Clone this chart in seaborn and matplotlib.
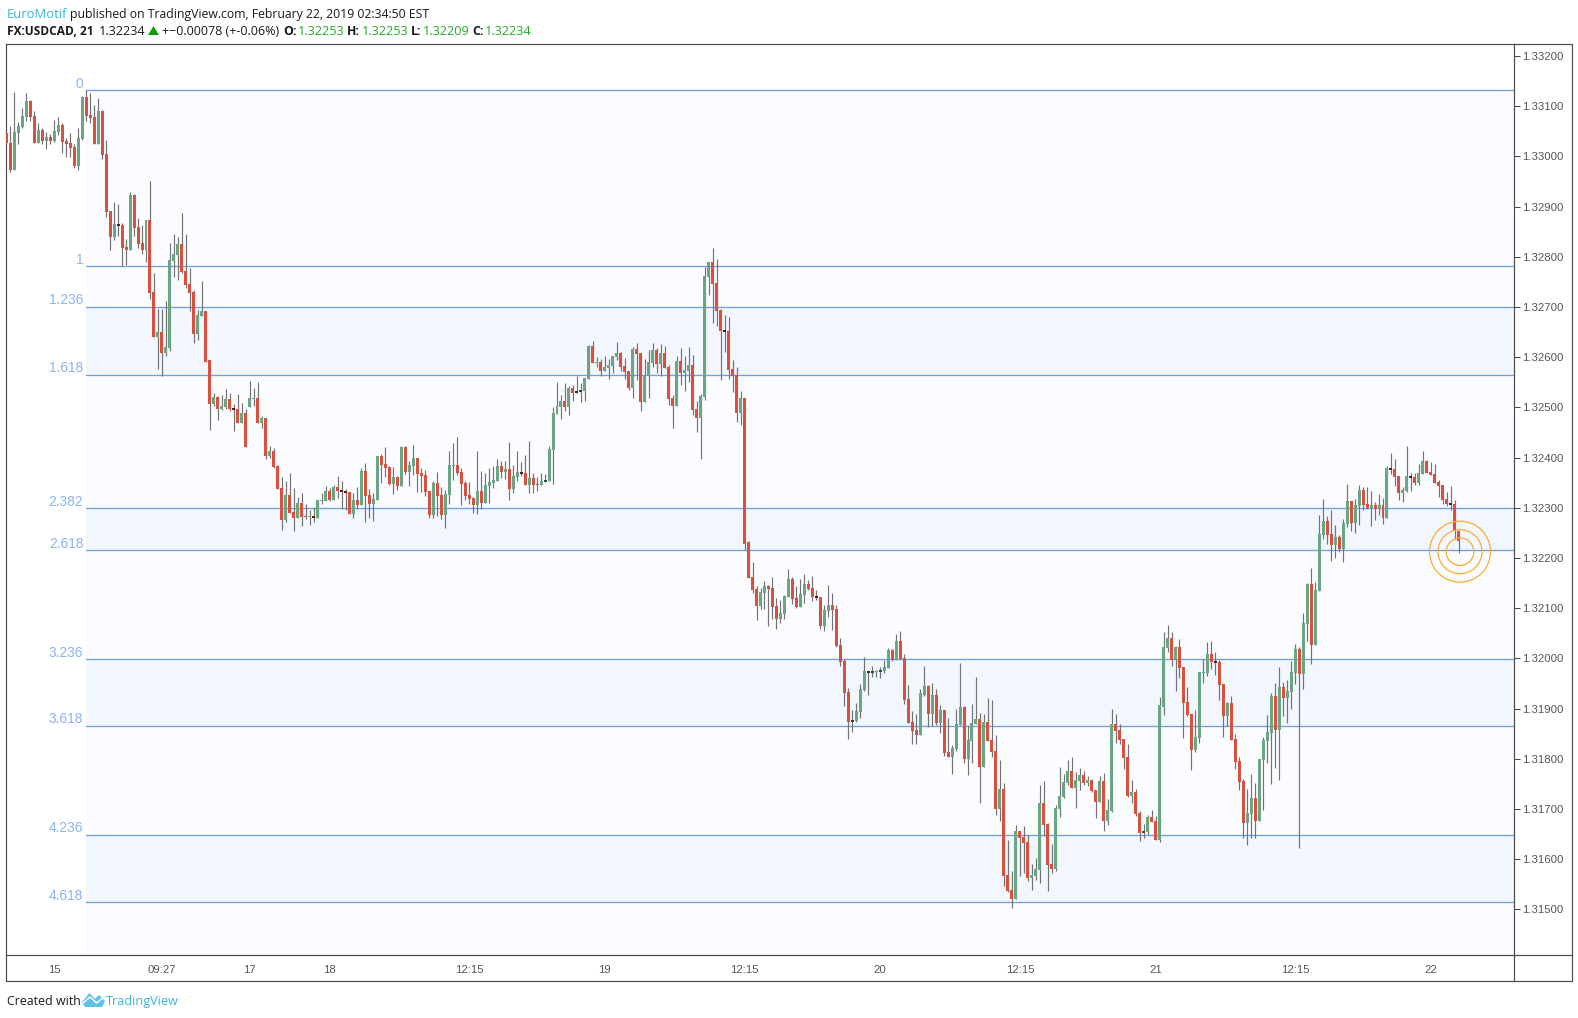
import numpy as np
import pandas as pd
import matplotlib
matplotlib.use("Agg")
import matplotlib.pyplot as plt
from matplotlib.patches import Polygon
from matplotlib.lines import Line2D
import seaborn as sns

# Candle values in points (1 point = 0.00001 USD/CAD)
opens_pts = [
133046,133027,132973,133047,133059,133079,133111,133081,133027,133053,
133031,133039,133031,133049,133063,133031,133027,133019,132981,133035,
133119,133083,133079,133025,133091,133005,132891,132839,132865,132863,
132819,132813,132923,132859,132827,132813,132873,132729,132641,132651,
132609,132619,132791,132803,132825,132771,132745,132729,132647,132683,
132693,132595,132507,132521,132497,132501,132517,132499,132497,132469,
132489,132501,132517,132519,132469,132479,132403,132413,132383,132339,
132275,132325,132291,132279,132309,132283,132281,132283,132279,132313,
132313,132333,132315,132341,132335,132333,132331,132287,132315,132305,
132373,132325,132307,132315,132403,132387,132381,132347,132361,132343,
132421,132371,132383,132399,132369,132365,132333,132285,132349,132325,
132285,132325,132383,132385,132371,132349,132325,132319,132305,132333,
132309,132343,132349,132353,132383,132371,132377,132337,132361,132371,
132369,132345,132359,132347,132345,132351,132353,132415,132487,132501,
132513,132501,132539,132533,132531,132533,132557,132623,132589,132591,
132573,132579,132583,132601,132609,132583,132573,132539,132617,132609,
132511,132563,132589,132615,132587,132609,132581,132519,132503,132593,
132569,132573,132585,132497,132479,132521,132759,132789,132747,132695,
132655,132653,132577,132565,132489,132519,132232,132162,132138,132104,
132130,132144,132140,132104,132078,132088,132122,132158,132120,132102,
132126,132148,132140,132124,132122,132064,132094,132106,132098,132026,
131994,131932,131874,131876,131894,131936,131974,131970,131972,131972,
131974,131980,132016,131996,132034,132000,131920,131874,131858,131848,
131928,131944,131890,131928,131872,131898,131814,131804,131820,131868,
131904,131800,131836,131870,131880,131784,131874,131838,131816,131700,
131740,131568,131538,131520,131656,131644,131634,131562,131566,131578,
131712,131670,131590,131580,131700,131724,131752,131776,131742,131756,
131768,131752,131758,131738,131714,131756,131676,131696,131870,131858,
131840,131804,131726,131734,131692,131652,131654,131684,131676,131638,
131904,132020,132040,131996,132022,131982,131914,131890,131818,131842,
131970,131970,132008,131994,131992,131948,131886,131912,131840,131796,
131756,131672,131690,131722,131676,131798,131836,131852,131926,131858,
131942,131922,131932,131970,132018,131968,132068,132148,132026,132134,
132246,132274,132248,132226,132242,132218,132268,132314,132270,132304,
132336,132308,132300,132306,132298,132306,132280,132380,132378,132364,
132330,132334,132364,132362,132350,132368,132394,132372,132368,132352,
132346,132318,132310,132308,132253]

highs_pts = [
133048,133061,133129,133068,133097,133126,133113,133091,133067,133057,
133049,133045,133073,133079,133067,133037,133047,133025,133057,133121,
133133,133127,133103,133117,133093,133033,132891,132909,132905,132867,
132835,132929,132925,132877,132863,132873,132951,132767,132697,132697,
132711,132827,132845,132839,132887,132845,132777,132733,132695,132751,
132693,132595,132529,132523,132525,132537,132529,132507,132527,132509,
132497,132553,132539,132551,132483,132479,132423,132419,132385,132361,
132353,132369,132339,132321,132329,132307,132295,132301,132315,132329,
132343,132339,132345,132363,132353,132337,132331,132329,132341,132379,
132389,132337,132329,132403,132407,132421,132383,132381,132363,132423,
132423,132393,132425,132399,132379,132375,132333,132353,132371,132341,
132335,132413,132429,132441,132379,132353,132351,132321,132413,132373,
132369,132379,132383,132397,132393,132393,132431,132385,132413,132391,
132405,132433,132369,132361,132369,132367,132423,132501,132551,132525,
132549,132543,132545,132563,132549,132559,132625,132633,132601,132597,
132603,132597,132603,132631,132611,132599,132573,132621,132629,132609,
132597,132615,132629,132619,132627,132623,132585,132525,132603,132619,
132603,132621,132605,132513,132527,132779,132789,132817,132795,132697,
132685,132681,132595,132581,132533,132519,132234,132192,132144,132140,
132154,132146,132162,132120,132116,132126,132178,132162,132144,132158,
132168,132156,132164,132136,132122,132106,132146,132130,132106,132040,
131998,131940,131898,131912,131948,132002,131974,131984,131976,131982,
131996,132020,132018,132048,132054,132008,131946,131896,131890,131938,
131984,131946,131950,131938,131908,131898,131882,131828,131900,131990,
131906,131866,131910,131962,131892,131890,131922,131918,131848,131798,
131752,131638,131576,131668,131656,131666,131648,131590,131602,131748,
131756,131672,131630,131708,131784,131770,131798,131804,131774,131782,
131776,131766,131760,131738,131766,131772,131720,131900,131890,131870,
131840,131830,131758,131740,131696,131670,131688,131698,131686,131924,
132052,132066,132052,132024,132038,131982,131942,131890,131898,131972,
131998,132032,132034,132012,131996,131948,131914,131926,131850,131804,
131760,131740,131770,131752,131800,131844,131888,131930,131950,131982,
131952,131956,131994,132028,132022,132090,132150,132180,132152,132286,
132318,132284,132296,132266,132246,132278,132348,132314,132318,132346,
132342,132342,132334,132312,132328,132320,132384,132410,132398,132364,
132342,132424,132370,132370,132388,132414,132396,132392,132388,132356,
132346,132332,132344,132316,132253]

lows_pts = [
133026,132968,132973,133025,133057,133071,133071,133027,133027,133025,
133015,133025,133029,133043,133007,132999,132999,132977,132973,133033,
133071,133067,133025,133025,132995,132879,132813,132833,132841,132781,
132783,132813,132841,132817,132805,132789,132715,132641,132577,132563,
132603,132613,132759,132753,132767,132737,132693,132629,132635,132683,
132591,132455,132503,132475,132495,132497,132493,132453,132469,132469,
132421,132501,132503,132469,132459,132397,132399,132379,132337,132255,
132271,132289,132253,132279,132263,132277,132265,132271,132279,132307,
132313,132313,132315,132319,132297,132295,132287,132279,132297,132305,
132271,132279,132273,132315,132349,132361,132345,132327,132335,132343,
132367,132343,132365,132331,132331,132323,132279,132279,132283,132277,
132259,132307,132355,132365,132305,132315,132307,132289,132287,132297,
132309,132309,132339,132353,132359,132357,132315,132329,132353,132363,
132345,132329,132329,132333,132345,132351,132353,132347,132487,132477,
132493,132485,132513,132529,132511,132513,132557,132589,132581,132563,
132573,132557,132569,132595,132573,132557,132535,132519,132555,132493,
132511,132519,132581,132569,132563,132579,132505,132459,132503,132545,
132533,132551,132485,132451,132397,132515,132723,132669,132663,132555,
132611,132557,132531,132471,132465,132215,132160,132130,132076,132098,
132098,132064,132078,132058,132070,132078,132122,132108,132100,132102,
132110,132136,132114,132116,132058,132054,132082,132056,132022,131984,
131906,131840,131854,131874,131882,131934,131928,131962,131962,131960,
131970,131980,131994,131996,131998,131910,131872,131830,131830,131848,
131926,131864,131866,131868,131852,131806,131804,131770,131816,131868,
131792,131768,131792,131870,131712,131784,131836,131804,131688,131676,
131546,131534,131502,131520,131566,131572,131556,131538,131558,131552,
131646,131536,131572,131576,131684,131722,131748,131742,131702,131738,
131748,131746,131734,131682,131714,131656,131668,131694,131832,131830,
131780,131724,131712,131686,131636,131642,131648,131674,131638,131634,
131888,132012,131984,131934,131960,131842,131886,131778,131814,131832,
131950,131964,131978,131966,131918,131844,131866,131838,131780,131738,
131642,131628,131642,131642,131676,131698,131792,131750,131782,131758,
131886,131872,131900,131948,131622,131938,132034,131988,132026,132134,
132238,132228,132194,132200,132212,132192,132262,132254,132250,132266,
132296,132298,132264,132276,132286,132268,132280,132368,132344,132316,
132312,132332,132334,132346,132346,132368,132370,132366,132350,132322,
132308,132304,132296,132238,132209]

closes_pts = [
133026,132973,133049,133061,133081,133111,133079,133027,133053,133031,
133039,133031,133051,133063,133029,133025,133017,132981,133037,133119,
133081,133077,133025,133091,133003,132889,132839,132865,132861,132817,
132813,132923,132857,132825,132813,132873,132727,132641,132651,132609,
132621,132793,132805,132825,132769,132743,132727,132647,132685,132693,
132591,132507,132521,132497,132503,132517,132497,132495,132469,132489,
132421,132519,132518,132469,132479,132403,132413,132381,132337,132275,
132325,132289,132279,132309,132281,132281,132283,132279,132315,132315,
132333,132315,132341,132333,132331,132329,132287,132315,132305,132373,
132323,132307,132317,132403,132385,132379,132347,132361,132343,132421,
132371,132385,132399,132367,132363,132331,132285,132349,132323,132285,
132327,132385,132385,132369,132347,132323,132317,132305,132333,132309,
132345,132351,132355,132383,132371,132377,132337,132363,132371,132367,
132345,132359,132345,132345,132353,132355,132417,132489,132503,132513,
132501,132539,132529,132529,132535,132559,132623,132589,132591,132573,
132581,132585,132603,132609,132581,132571,132539,132617,132607,132511,
132565,132591,132615,132587,132609,132579,132517,132503,132593,132569,
132575,132585,132495,132479,132523,132761,132789,132745,132693,132653,
132651,132575,132563,132489,132519,132227,132160,132136,132104,132132,
132144,132138,132102,132078,132090,132124,132158,132118,132102,132128,
132148,132138,132122,132120,132064,132096,132106,132096,132024,131992,
131930,131874,131878,131896,131938,131974,131970,131974,131974,131976,
131982,132016,131996,132034,131998,131918,131872,131856,131848,131930,
131944,131890,131928,131872,131898,131812,131804,131822,131870,131904,
131800,131838,131872,131880,131784,131874,131836,131814,131700,131740,
131566,131536,131520,131656,131642,131632,131562,131568,131580,131712,
131668,131588,131580,131702,131726,131754,131776,131742,131758,131768,
131752,131758,131736,131714,131756,131676,131698,131870,131856,131838,
131802,131726,131734,131690,131652,131656,131684,131674,131638,131908,
132022,132040,131996,132022,131980,131912,131888,131818,131844,131972,
131972,132008,131992,131990,131946,131886,131912,131838,131794,131754,
131672,131692,131722,131676,131800,131838,131854,131926,131858,131942,
131922,131934,131972,132018,131968,132070,132148,132026,132136,132248,
132274,132246,132226,132242,132218,132270,132314,132270,132306,132336,
132306,132300,132306,132298,132306,132280,132380,132376,132362,132330,
132336,132364,132360,132350,132370,132394,132370,132366,132350,132344,
132316,132308,132306,132254,132234]

fib_ratios = ["0", "1", "1.236", "1.618", "2.382", "2.618", "3.236", "3.618", "4.236", "4.618"]
fib_prices = [1.33132, 1.32781, 1.32700, 1.32565, 1.32299, 1.32215, 1.31998, 1.31865, 1.31648, 1.31514]
fib_start = 20

price_ticks = [1.315, 1.316, 1.317, 1.318, 1.319, 1.320, 1.321, 1.322, 1.323, 1.324,
               1.325, 1.326, 1.327, 1.328, 1.329, 1.330, 1.331, 1.332]
time_ticks = [12, 39, 61, 81, 116, 150, 185, 219, 254, 288, 323, 357]
time_labels = ["15", "09:27", "17", "18", "12:15", "19", "12:15", "20", "12:15", "21", "12:15", "22"]

ring_x, ring_price = 364.3, 1.322125
ring_radii_px = [13.8, 22, 30.5]

W, H = 1578, 1018
UP, DOWN, WICK = "#6ba583", "#d9503f", "#737375"
UP_DARK, DOWN_DARK = "#225437", "#5b1a13"
LINE = "#4a4a4a"
FIB = "#6f9fe6"
FIB_TXT = "#8ab2f2"
BAND_LIGHT, BAND_DARK = "#fbfcff", "#f2f6fd"
BLUE = "#3bb3e4"
VAL_GREEN = "#22ab22"

sns.set_theme(style="white")
plt.rcParams["font.family"] = ["Liberation Sans", "DejaVu Sans"]

o = np.array(opens_pts) / 1e5
h = np.array(highs_pts) / 1e5
l = np.array(lows_pts) / 1e5
c = np.array(closes_pts) / 1e5
idx = np.arange(len(o))

fig = plt.figure(figsize=(W / 100, H / 100), dpi=100, facecolor="white")
def fx(x): return x / W
def fy(y): return 1 - y / H
ax = fig.add_axes([fx(6.0), fy(954.5), fx(1514.0 - 6.0), (954.5 - 43.5) / H])

ax.set_xlim(-0.085, 377.83)
ax.set_ylim(1.31410, 1.33225)

# bands
edges = fib_prices + [ax.get_ylim()[0]]
band_cols = [BAND_LIGHT, BAND_LIGHT, BAND_DARK, BAND_LIGHT, BAND_DARK,
             BAND_LIGHT, BAND_DARK, BAND_LIGHT, BAND_DARK, BAND_LIGHT]
xr = ax.get_xlim()[1]
for top, bot, col in zip(edges[:-1], edges[1:], band_cols):
    ax.fill_between([fib_start, xr], bot, top, color=col, lw=0, zorder=1)

fib_df = pd.DataFrame({
    "x": [fib_start, xr] * len(fib_prices),
    "y": np.repeat(fib_prices, 2),
    "u": np.repeat(fib_ratios, 2),
})
sns.lineplot(data=fib_df, x="x", y="y", units="u", estimator=None, color=FIB,
             linewidth=0.95, ax=ax, legend=False, zorder=2)
for r, p in zip(fib_ratios, fib_prices):
    ax.annotate(r, xy=(fib_start, p), xytext=(-2.0, 1.9), textcoords="offset points",
                ha="right", va="baseline", color=FIB_TXT, fontsize=9.9, zorder=6)

# candles
ax.vlines(idx, l, h, color=WICK, linewidth=0.85, zorder=3)
diff = np.abs(np.array(opens_pts) - np.array(closes_pts))
up = c >= o
cols = []
for d, u in zip(diff, up):
    if 2.5 < d < 5.5:
        cols.append(UP_DARK if u else DOWN_DARK)
    else:
        cols.append(UP if u else DOWN)
ax.bar(idx, np.maximum(np.abs(c - o), 2e-5), bottom=np.minimum(o, c), width=0.75,
       color=cols, linewidth=0, zorder=4)

# target rings
for r in ring_radii_px:
    d_pt = 2 * r * 0.72
    ax.scatter([ring_x], [ring_price], s=d_pt ** 2, facecolors="none",
               edgecolors="#ffa726", linewidths=0.85, zorder=5, clip_on=False)

# axes
for s in ax.spines.values():
    s.set_visible(True)
    s.set_color(LINE)
    s.set_linewidth(0.85)
ax.set_xlabel("")
ax.set_ylabel("")
ax.yaxis.tick_right()
ax.set_yticks(price_ticks)
ax.set_yticklabels([f"{p:.5f}" for p in price_ticks])
ax.set_xticks(time_ticks)
ax.set_xticklabels(time_labels)
ax.tick_params(axis="y", length=4.3, width=0.75, color=LINE, labelcolor="#555555",
               labelsize=8.2, pad=1.6)
ax.tick_params(axis="x", length=3, width=0.75, color=LINE, labelcolor="#555555",
               labelsize=8.2, pad=4.6)

# outer frame around the scales
def fline(x0, y0, x1, y1):
    fig.add_artist(Line2D([fx(x0), fx(x1)], [fy(y0), fy(y1)], color=LINE, lw=0.85))
fline(6.0, 954.5, 6.0, 981)
fline(6.0, 981, 1571.5, 981)
fline(1571.5, 43.5, 1571.5, 981)
fline(1514.0, 43.5, 1571.5, 43.5)
fline(1514.0, 954.5, 1571.5, 954.5)
fline(1514.0, 954.5, 1514.0, 981)

# header / footer
HF = ["Open Sans", "DejaVu Sans"]
def t(x, y, s, color="#1a1a1a", weight="normal", size=8.8):
    fig.text(fx(x), fy(y), s, color=color, fontweight=weight, fontsize=size,
             family=HF, va="baseline", ha="left")
t(6.9, 18, "EuroMotif", BLUE, size=9.4)
t(69.6, 18, "published on TradingView.com, February 22, 2019 02:34:50 EST")
t(6.9, 35, "FX:USDCAD, 21", weight="bold", size=8.6)
t(99, 35, "1.32234", size=9.1)
fig.add_artist(Polygon([[fx(148), fy(35)], [fx(159), fy(35)], [fx(153.5), fy(26)]],
                       closed=True, color="#0a9f0a", lw=0))
t(161.8, 35, "+\u22120.00078 (+-0.06%)", size=9.0)
label_x = [283, 347, 411, 472.4]
value_x = [297.5, 361.6, 422.5, 484.5]
ohlc_labels = ["O:", "H:", "L:", "C:"]
ohlc_values = ["1.32253", "1.32253", "1.32209", "1.32234"]
for lx, vx, lab, val in zip(label_x, value_x, ohlc_labels, ohlc_values):
    t(lx, 35, lab, weight="bold", size=8.8)
    t(vx, 35, val, VAL_GREEN, size=9.1)

t(6.7, 1005, "Created with", size=8.9)
t(106, 1005, "TradingView", BLUE, size=9.1)
logo = [(82, 1002), (89.5, 993), (95, 999), (99, 995), (105, 1001), (102, 1007), (85, 1007)]
fig.add_artist(Polygon([[fx(a), fy(b)] for a, b in logo], closed=True, color="#5cc0ea", lw=0))
fig.add_artist(Line2D([fx(83), fx(90), fx(96.5), fx(105)],
                      [fy(1003), fy(997), fy(1003), fy(996)], color="white", lw=1.1))

fig.savefig("out.png", dpi=100, facecolor="white")
